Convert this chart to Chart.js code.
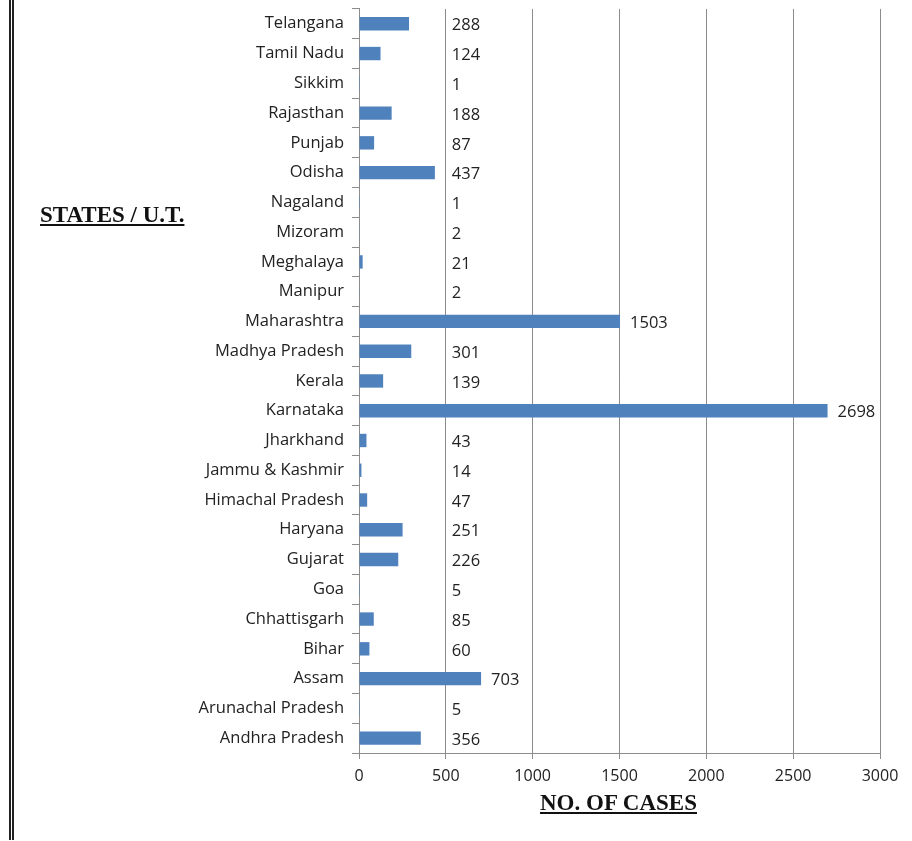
<!DOCTYPE html>
<html>
<head>
<meta charset="utf-8">
<script src="https://cdn.jsdelivr.net/npm/chart.js@4/dist/chart.umd.min.js"></script>
<style>
  body { margin: 0; background: #fff; }
  #wrap { position: relative; width: 912px; height: 841px; overflow: hidden; }
  #chart { position: absolute; left: 0; top: -9px; }
  .border { position: absolute; left: 9px; top: 0; width: 0; height: 840px; border-left: 5px double #222; }
  .title { position: absolute; font-family: "Liberation Serif", "DejaVu Serif", serif; font-weight: bold; text-decoration: underline; color: #111; white-space: nowrap; }
  #ytitle { left: 40px; top: 202px; font-size: 23px; }
  #xtitle { left: 540px; top: 790px; font-size: 23px; }
</style>
</head>
<body>
<div id="wrap">
  <div class="border"></div>
  <canvas id="chart" width="912" height="850"></canvas>
  <div class="title" id="ytitle">STATES / U.T.</div>
  <div class="title" id="xtitle">NO. OF CASES</div>
</div>
<script>
// top to bottom, as in the picture
const states = ['Telangana', 'Tamil Nadu', 'Sikkim', 'Rajasthan', 'Punjab', 'Odisha', 'Nagaland',
  'Mizoram', 'Meghalaya', 'Manipur', 'Maharashtra', 'Madhya Pradesh', 'Kerala', 'Karnataka',
  'Jharkhand', 'Jammu & Kashmir', 'Himachal Pradesh', 'Haryana', 'Gujarat', 'Goa',
  'Chhattisgarh', 'Bihar', 'Assam', 'Arunachal Pradesh', 'Andhra Pradesh'];
const cases = [288, 124, 1, 188, 87, 437, 1, 2, 21, 2, 1503, 301, 139, 2698,
  43, 14, 47, 251, 226, 5, 85, 60, 703, 5, 356];
const xMin = 0;
const xMax = 3000;
const xStep = 500;

const family = '"Open Sans", "DejaVu Sans", sans-serif';

// value labels: just right of the bar, but never left of the 500 line
const valueLabels = {
  id: 'valueLabels',
  afterDatasetsDraw(chart) {
    const ctx = chart.ctx;
    const meta = chart.getDatasetMeta(0);
    const x500 = chart.scales.x.getPixelForValue(500);
    ctx.save();
    ctx.font = '16.5px ' + family;
    ctx.fillStyle = '#222';
    ctx.textAlign = 'left';
    ctx.textBaseline = 'middle';
    meta.data.forEach((bar, i) => {
      const x = Math.max(bar.x + 10, x500 + 6);
      ctx.fillText(String(cases[i]), x, bar.y + 2);
    });
    ctx.restore();
  }
};

new Chart(document.getElementById('chart'), {
  type: 'bar',
  data: {
    labels: states,
    datasets: [{
      data: cases,
      backgroundColor: '#4F81BD',
      barPercentage: 0.9,
      categoryPercentage: 0.5
    }]
  },
  options: {
    indexAxis: 'y',
    responsive: false,
    animation: false,
    layout: { padding: { top: 0, right: 32, left: 0, bottom: 0 } },
    plugins: { legend: { display: false }, tooltip: { enabled: false } },
    scales: {
      x: {
        min: xMin,
        max: xMax,
        ticks: { stepSize: xStep, color: '#222', padding: 8, font: { family: family, size: 16 },
          callback: v => String(v) },
        grid: { color: '#8c8c8c', tickLength: 6, lineWidth: 1 },
        border: { color: '#8c8c8c' },
        afterFit(scale) { scale.height = 88; }
      },
      y: {
        ticks: { autoSkip: false, color: '#222', padding: 8, font: { family: family, size: 16.5 } },
        grid: { drawOnChartArea: false, color: '#8c8c8c', tickLength: 7, offset: true },
        border: { color: '#8c8c8c' },
        afterFit(scale) { scale.width = 359; }
      }
    }
  },
  plugins: [valueLabels]
});
</script>
</body>
</html>
